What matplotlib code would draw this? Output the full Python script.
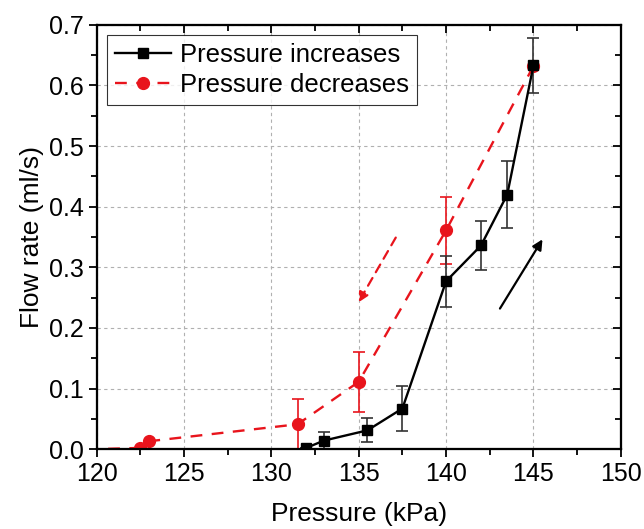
import numpy as np
import matplotlib.pyplot as plt
from matplotlib.ticker import MultipleLocator
from matplotlib.lines import Line2D

plt.rcParams['font.family'] = ['Liberation Sans', 'DejaVu Sans']

# pressure increasing (kPa, ml/s)
p_up = [132.0, 133.0, 135.5, 137.5, 140.0, 142.0, 143.5, 145.0]
q_up = [0.002, 0.014, 0.031, 0.067, 0.277, 0.336, 0.420, 0.633]
err_up = [0.0, 0.014, 0.020, 0.037, 0.042, 0.040, 0.055, 0.045]

# pressure decreasing
p_down = [145.0, 140.0, 135.0, 131.5, 123.0, 122.5, 120.0]
q_down = [0.632, 0.361, 0.111, 0.041, 0.013, 0.002, 0.0]
err_down = [0.0, 0.055, 0.050, 0.041, 0.0, 0.0, 0.0]

# direction arrows (start, end)
arrow_up = [(143.0, 0.228), (145.6, 0.350)]
arrow_down = [(137.2, 0.353), (134.9, 0.238)]

RED = '#e8141c'
DASH = (0, (5, 4))

fig = plt.figure(figsize=(6.44, 5.29), dpi=100)
ax = fig.add_axes([0.150, 0.151, 0.814, 0.802])

ax.errorbar(p_up, q_up, yerr=err_up, color='black', marker='s', ms=7.5,
            lw=1.7, ecolor='#333333', elinewidth=1.2, capsize=4, capthick=1.2,
            zorder=4)
ax.errorbar(p_down, q_down, yerr=err_down, color=RED, marker='o', ms=8.5,
            lw=1.7, ls=DASH, elinewidth=1.2, capsize=4, capthick=1.2,
            markevery=list(range(len(p_down) - 1)), zorder=3)

ax.annotate('', xy=arrow_up[1], xytext=arrow_up[0],
            arrowprops=dict(arrowstyle='-|>', color='black', lw=1.6,
                            mutation_scale=15))
ax.annotate('', xy=arrow_down[1], xytext=arrow_down[0],
            arrowprops=dict(arrowstyle='-|>', color=RED, lw=1.6,
                            ls=(0, (4, 3)), mutation_scale=15))

ax.set_xlim(120, 150)
ax.set_ylim(0, 0.7)
ax.xaxis.set_major_locator(MultipleLocator(5))
ax.xaxis.set_minor_locator(MultipleLocator(2.5))
ax.yaxis.set_major_locator(MultipleLocator(0.1))
ax.yaxis.set_minor_locator(MultipleLocator(0.05))
ax.yaxis.set_major_formatter(plt.FormatStrFormatter('%.1f'))

ax.tick_params(which='both', direction='out', width=1.3, labelsize=18)
ax.tick_params(which='major', length=6)
ax.tick_params(which='minor', length=4)

# inward ticks on top and right
axt = ax.twiny()
axt.set_xlim(ax.get_xlim())
axt.xaxis.set_major_locator(MultipleLocator(5))
axt.xaxis.set_minor_locator(MultipleLocator(2.5))
axt.tick_params(which='both', direction='in', width=1.3, labeltop=False)
axt.tick_params(which='major', length=6)
axt.tick_params(which='minor', length=4)
axr = ax.twinx()
axr.set_ylim(ax.get_ylim())
axr.yaxis.set_major_locator(MultipleLocator(0.1))
axr.yaxis.set_minor_locator(MultipleLocator(0.05))
axr.tick_params(which='both', direction='in', width=1.3, labelright=False)
axr.tick_params(which='major', length=6)
axr.tick_params(which='minor', length=4)

for a in (ax, axt, axr):
    for s in a.spines.values():
        s.set_linewidth(1.5)

ax.grid(True, which='major', color='#b0b0b0', ls=(0, (3, 3)), lw=0.8)
ax.set_axisbelow(True)

ax.set_xlabel('Pressure (kPa)', fontsize=19, labelpad=11)
ax.set_ylabel('Flow rate (ml/s)', fontsize=19, labelpad=3)

handles = [
    Line2D([], [], color='black', marker='s', ms=7.5, lw=1.7),
    Line2D([], [], color=RED, marker='o', ms=8.5, lw=1.7, ls=DASH),
]
leg = axr.legend(handles, ['Pressure increases', 'Pressure decreases'],
                 loc='upper left', fontsize=18.5, frameon=True, fancybox=False,
                 edgecolor='black', borderpad=0.3, labelspacing=0.25,
                 handlelength=2.2, handletextpad=0.35, borderaxespad=0.4)
leg.get_frame().set_linewidth(0.8)

fig.savefig('out.png', dpi=100)
